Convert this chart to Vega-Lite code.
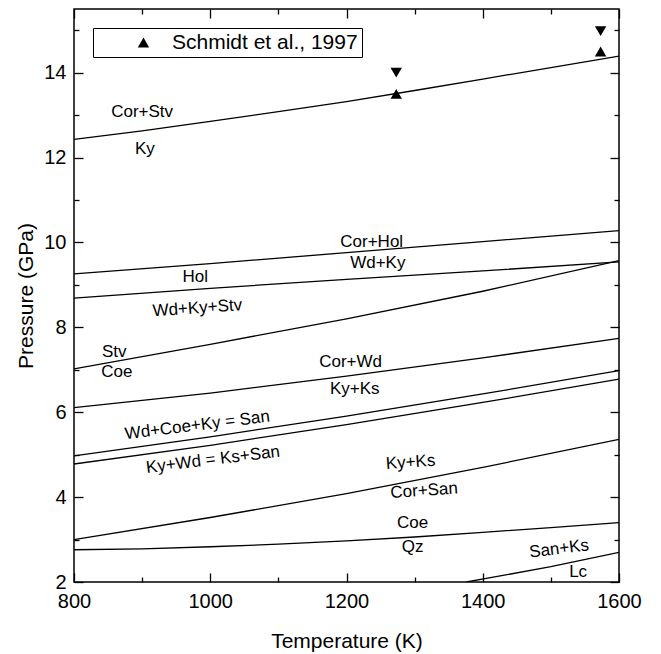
{
  "$schema": "https://vega.github.io/schema/vega-lite/v6.json",
  "width": 545,
  "height": 573,
  "autosize": {"type": "none"},
  "padding": {"left": 74, "top": 9, "right": 42, "bottom": 72},
  "background": "white",
  "config": {
    "font": "Liberation Sans",
    "view": {"stroke": "black", "strokeWidth": 1.5},
    "axis": {
      "grid": false,
      "domain": false,
      "ticks": true,
      "tickColor": "#000000",
      "tickOpacity": 1,
      "tickWidth": 1.3,
      "labelColor": "black",
      "labelFontSize": 20,
      "labelFont": "Liberation Sans",
      "titleColor": "black",
      "titleFontSize": 21,
      "titleFontWeight": "normal",
      "titleFont": "Liberation Sans",
      "labelFlush": false,
      "labelOverlap": false
    }
  },
  "encoding": {
    "x": {"field": "T", "type": "quantitative", "scale": {"domain": [800, 1600], "nice": false, "zero": false}, "axis": null},
    "y": {"field": "P", "type": "quantitative", "scale": {"domain": [2, 15.5], "nice": false, "zero": false}, "axis": null}
  },
  "layer": [
    {
      "data": {"values": [
        {"curve": "A", "T": 800, "P": 12.43}, {"curve": "A", "T": 900, "P": 12.63}, {"curve": "A", "T": 1000, "P": 12.85}, {"curve": "A", "T": 1100, "P": 13.08}, {"curve": "A", "T": 1200, "P": 13.32}, {"curve": "A", "T": 1300, "P": 13.58}, {"curve": "A", "T": 1400, "P": 13.85}, {"curve": "A", "T": 1500, "P": 14.12}, {"curve": "A", "T": 1600, "P": 14.39},
        {"curve": "B", "T": 800, "P": 9.26}, {"curve": "B", "T": 1000, "P": 9.5}, {"curve": "B", "T": 1200, "P": 9.76}, {"curve": "B", "T": 1400, "P": 10.02}, {"curve": "B", "T": 1600, "P": 10.28},
        {"curve": "C", "T": 800, "P": 8.69}, {"curve": "C", "T": 1000, "P": 8.92}, {"curve": "C", "T": 1200, "P": 9.13}, {"curve": "C", "T": 1400, "P": 9.33}, {"curve": "C", "T": 1600, "P": 9.54},
        {"curve": "D", "T": 800, "P": 7.02}, {"curve": "D", "T": 1000, "P": 7.6}, {"curve": "D", "T": 1200, "P": 8.2}, {"curve": "D", "T": 1400, "P": 8.85}, {"curve": "D", "T": 1600, "P": 9.57},
        {"curve": "E", "T": 800, "P": 6.11}, {"curve": "E", "T": 1000, "P": 6.45}, {"curve": "E", "T": 1200, "P": 6.85}, {"curve": "E", "T": 1400, "P": 7.28}, {"curve": "E", "T": 1600, "P": 7.74},
        {"curve": "F", "T": 800, "P": 4.97}, {"curve": "F", "T": 1000, "P": 5.42}, {"curve": "F", "T": 1200, "P": 5.91}, {"curve": "F", "T": 1400, "P": 6.43}, {"curve": "F", "T": 1600, "P": 6.98},
        {"curve": "G", "T": 800, "P": 4.78}, {"curve": "G", "T": 1000, "P": 5.22}, {"curve": "G", "T": 1200, "P": 5.71}, {"curve": "G", "T": 1400, "P": 6.23}, {"curve": "G", "T": 1600, "P": 6.78},
        {"curve": "H", "T": 800, "P": 3.0}, {"curve": "H", "T": 1000, "P": 3.52}, {"curve": "H", "T": 1200, "P": 4.08}, {"curve": "H", "T": 1400, "P": 4.7}, {"curve": "H", "T": 1600, "P": 5.36},
        {"curve": "I", "T": 800, "P": 2.76}, {"curve": "I", "T": 900, "P": 2.78}, {"curve": "I", "T": 1000, "P": 2.83}, {"curve": "I", "T": 1100, "P": 2.89}, {"curve": "I", "T": 1200, "P": 2.97}, {"curve": "I", "T": 1300, "P": 3.06}, {"curve": "I", "T": 1400, "P": 3.17}, {"curve": "I", "T": 1500, "P": 3.28}, {"curve": "I", "T": 1600, "P": 3.4},
        {"curve": "J", "T": 1376, "P": 2.0}, {"curve": "J", "T": 1500, "P": 2.36}, {"curve": "J", "T": 1600, "P": 2.7}
      ]},
      "mark": {"type": "line", "color": "black", "strokeWidth": 1.3, "clip": true},
      "encoding": {
        "x": {"field": "T", "type": "quantitative", "scale": {"domain": [800, 1600], "nice": false, "zero": false},
          "axis": {"orient": "bottom", "values": [800, 1000, 1200, 1400, 1600], "format": "d",
            "offset": -9, "tickSize": 9, "labelPadding": 9, "title": "Temperature (K)", "titlePadding": 19}},
        "y": {"field": "P", "type": "quantitative", "scale": {"domain": [2, 15.5], "nice": false, "zero": false},
          "axis": {"orient": "left", "values": [2, 4, 6, 8, 10, 12, 14], "format": "d",
            "offset": -9, "tickSize": 9, "labelPadding": 8, "title": "Pressure (GPa)", "titlePadding": 7}},
        "detail": {"field": "curve", "type": "nominal"},
        "order": {"field": "T", "type": "quantitative"}
      }
    },
    {
      "data": {"values": [
        {"T": 1273, "P": 13.5},
        {"T": 1573, "P": 14.5}
      ]},
      "mark": {"type": "point", "filled": true, "color": "black", "size": 130, "opacity": 1},
      "encoding": {
        "x": {"field": "T", "type": "quantitative", "scale": {"domain": [800, 1600], "nice": false, "zero": false},
          "axis": {"orient": "top", "values": [800, 1000, 1200, 1400, 1600], "labels": false, "title": null, "offset": -9, "tickSize": 9}},
        "y": {"field": "P", "type": "quantitative", "scale": {"domain": [2, 15.5], "nice": false, "zero": false},
          "axis": {"orient": "right", "values": [2, 4, 6, 8, 10, 12, 14], "labels": false, "title": null, "offset": -9, "tickSize": 9}},
        "shape": {"datum": "Schmidt et al., 1997", "type": "nominal", "scale": {"range": ["triangle-up"]},
          "legend": {"orient": "none", "legendX": 19, "legendY": 19, "title": null, "strokeColor": "black", "padding": 4,
            "symbolOffset": 36, "labelOffset": 18, "labelFontSize": 21, "labelLimit": 500, "labelColor": "black", "labelFont": "Liberation Sans", "symbolSize": 130,
            "symbolFillColor": "black", "symbolStrokeColor": "black", "symbolStrokeWidth": 0}}
      }
    },
    {
      "data": {"values": [
        {"T": 1273, "P": 14.0},
        {"T": 1573, "P": 14.98}
      ]},
      "mark": {"type": "point", "filled": true, "color": "black", "size": 130, "opacity": 1, "shape": "triangle-down"},
      "encoding": {
        "x": {"field": "T", "type": "quantitative", "scale": {"domain": [800, 1600], "nice": false, "zero": false},
          "axis": {"orient": "bottom", "values": [900, 1100, 1300, 1500], "labels": false, "title": null, "offset": -5, "tickSize": 5}},
        "y": {"field": "P", "type": "quantitative", "scale": {"domain": [2, 15.5], "nice": false, "zero": false},
          "axis": {"orient": "left", "values": [3, 5, 7, 9, 11, 13, 15], "labels": false, "title": null, "offset": -5, "tickSize": 5}}
      }
    },
    {
      "data": {"values": [
        {"label": "Cor+Stv", "T": 900, "P": 13.07},
        {"label": "Ky", "T": 904, "P": 12.19},
        {"label": "Cor+Hol", "T": 1237, "P": 10.0},
        {"label": "Wd+Ky", "T": 1246, "P": 9.51},
        {"label": "Hol", "T": 978, "P": 9.18},
        {"label": "Stv", "T": 859, "P": 7.41},
        {"label": "Coe", "T": 863, "P": 6.94},
        {"label": "Cor+Wd", "T": 1206, "P": 7.18},
        {"label": "Ky+Ks", "T": 1212, "P": 6.55},
        {"label": "Coe", "T": 1297, "P": 3.4},
        {"label": "Qz", "T": 1297, "P": 2.82},
        {"label": "Lc", "T": 1540, "P": 2.24}
      ]},
      "mark": {"type": "text", "fontSize": 17, "color": "black", "align": "center", "baseline": "middle", "font": "Liberation Sans"},
      "encoding": {
        "x": {"field": "T", "type": "quantitative", "scale": {"domain": [800, 1600], "nice": false, "zero": false},
          "axis": {"orient": "top", "values": [900, 1100, 1300, 1500], "labels": false, "title": null, "offset": -5, "tickSize": 5}},
        "y": {"field": "P", "type": "quantitative", "scale": {"domain": [2, 15.5], "nice": false, "zero": false},
          "axis": {"orient": "right", "values": [3, 5, 7, 9, 11, 13, 15], "labels": false, "title": null, "offset": -5, "tickSize": 5}},
        "text": {"field": "label"}
      }
    },
    {
      "data": {"values": [
        {"label": "Wd+Coe+Ky = San", "T": 981, "P": 5.69},
        {"label": "Ky+Wd = Ks+San", "T": 1004, "P": 4.88},
        {"label": "San+Ks", "T": 1512, "P": 2.78}
      ]},
      "mark": {"type": "text", "fontSize": 17, "color": "black", "align": "center", "baseline": "middle", "angle": -7, "font": "Liberation Sans"},
      "encoding": {"text": {"field": "label"}}
    },
    {
      "data": {"values": [
        {"label": "Wd+Ky+Stv", "T": 981, "P": 8.45},
        {"label": "Ky+Ks", "T": 1294, "P": 4.82},
        {"label": "Cor+San", "T": 1314, "P": 4.15}
      ]},
      "mark": {"type": "text", "fontSize": 17, "color": "black", "align": "center", "baseline": "middle", "angle": -4, "font": "Liberation Sans"},
      "encoding": {"text": {"field": "label"}}
    }
  ],
  "resolve": {"axis": {"x": "independent", "y": "independent"}}
}
